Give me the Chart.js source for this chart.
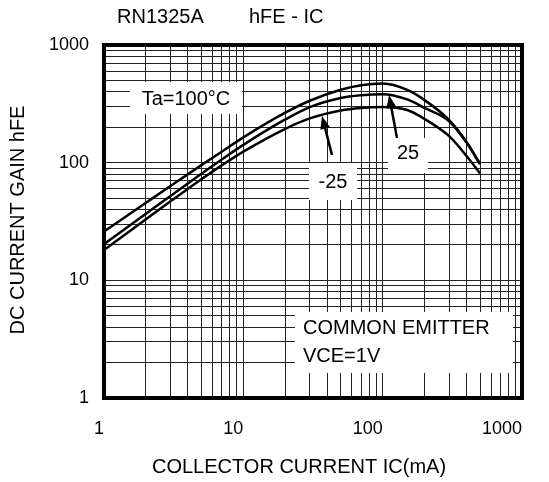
<!DOCTYPE html>
<html>
<head>
<meta charset="utf-8">
<script src="https://cdn.jsdelivr.net/npm/chart.js@4.4.1/dist/chart.umd.min.js"></script>
<style>
  html, body { margin: 0; padding: 0; background: #fff; }
</style>
</head>
<body>
<canvas id="hfe" width="549" height="482"></canvas>
<script>
// collector current IC (mA)
const xIc = [1, 2, 3, 5, 7, 10, 20, 30, 50, 70, 100, 150, 200, 300, 400, 500];
// hFE
const hfe100 = [26, 45.6, 63.3, 95.3, 124, 164, 266, 336, 416, 454, 470, 415, 340, 230, 150, 98];
const hfe25 = [20.3, 36.8, 52.2, 80.6, 106.5, 141.7, 233, 297, 355, 374, 382, 345, 292, 225, 148, 97];
const hfeM25 = [18.1, 33.1, 46.9, 72.4, 94.8, 124, 194, 238, 278, 292, 297, 280, 235, 168, 114, 81];

const decades = [1, 10, 100, 1000];
const xTickLabels = ['1', '10', '100', '1000'];
const yTickLabels = ['1', '10', '100', '1000'];

// grid lines at 1..9 of every decade
const gridVals = [];
for (let d = 1; d < 1000; d *= 10) {
  for (let k = 1; k < 10; k++) gridVals.push(k * d);
}
gridVals.push(1000);

const FONT = 'Liberation Sans, Arial, sans-serif';

function pts(ys) {
  return xIc.map((x, i) => ({ x: x, y: ys[i] }));
}

function label(arr, v) {
  const i = decades.indexOf(v);
  return i >= 0 ? arr[i] : '';
}

function whiteBox(ctx, x, y, w, h) {
  ctx.fillStyle = '#fff';
  ctx.fillRect(x, y, w, h);
}

function arrow(ctx, x1, y1, x2, y2) {
  // line from (x1,y1) to tip (x2,y2)
  const a = Math.atan2(y2 - y1, x2 - x1);
  const len = 13, half = 5;
  ctx.strokeStyle = '#000';
  ctx.fillStyle = '#000';
  ctx.lineWidth = 2.5;
  ctx.beginPath();
  ctx.moveTo(x1, y1);
  ctx.lineTo(x2 - Math.cos(a) * len * 0.8, y2 - Math.sin(a) * len * 0.8);
  ctx.stroke();
  ctx.beginPath();
  ctx.moveTo(x2, y2);
  ctx.lineTo(x2 - Math.cos(a) * len - Math.sin(a) * half, y2 - Math.sin(a) * len + Math.cos(a) * half);
  ctx.lineTo(x2 - Math.cos(a) * len + Math.sin(a) * half, y2 - Math.sin(a) * len - Math.cos(a) * half);
  ctx.closePath();
  ctx.fill();
}

const notes = {
  id: 'notes',
  beforeDatasetsDraw(chart) {
    const ctx = chart.ctx;
    ctx.save();
    whiteBox(ctx, 130, 82, 112, 32);
    whiteBox(ctx, 388, 138, 40, 35);
    whiteBox(ctx, 309, 163, 48, 37);
    whiteBox(ctx, 295, 312, 218, 61);
    ctx.restore();
  },
  afterDraw(chart) {
    const ctx = chart.ctx;
    const a = chart.chartArea;
    ctx.save();
    // frame
    ctx.strokeStyle = '#000';
    ctx.lineWidth = 4;
    ctx.strokeRect(a.left, a.top, a.right - a.left, a.bottom - a.top);

    arrow(ctx, 397, 138, 389, 95);
    arrow(ctx, 332, 155, 322, 116);

    ctx.fillStyle = '#000';
    ctx.font = '20px ' + FONT;
    ctx.textBaseline = 'middle';
    ctx.textAlign = 'center';
    ctx.fillText('Ta=100°C', 186, 99);
    ctx.fillText('25', 408, 153);
    ctx.fillText('-25', 333, 182);
    ctx.textAlign = 'left';
    ctx.fillText('COMMON EMITTER', 303, 328);
    ctx.fillText('VCE=1V', 303, 356);

    // titles
    ctx.fillText('RN1325A', 117, 17);
    ctx.fillText('hFE - IC', 249, 17);
    ctx.textAlign = 'center';
    ctx.fillText('COLLECTOR CURRENT IC(mA)', 299, 467);
    ctx.translate(18, 220);
    ctx.rotate(-Math.PI / 2);
    ctx.fillText('DC CURRENT GAIN hFE', 0, 0);
    ctx.restore();
  }
};

const line = (lbl, ys) => ({
  label: lbl,
  data: pts(ys),
  borderColor: '#000',
  borderWidth: 2.5,
  pointRadius: 0,
  fill: false,
  cubicInterpolationMode: 'monotone'
});

const ctx = document.getElementById('hfe');
const chart = new Chart(ctx, {
  type: 'line',
  data: {
    datasets: [
      line('Ta=100°C', hfe100),
      line('25', hfe25),
      line('-25', hfeM25)
    ]
  },
  options: {
    responsive: false,
    animation: false,
    devicePixelRatio: 1,
    layout: { padding: { left: 0, right: 27, top: 45, bottom: 0 } },
    plugins: { legend: { display: false }, tooltip: { enabled: false } },
    scales: {
      x: {
        type: 'logarithmic',
        min: 1,
        max: 1000,
        afterBuildTicks: (s) => { s.ticks = gridVals.map(v => ({ value: v })); },
        afterFit: (s) => { s.height = 84; },
        grid: { color: '#222', lineWidth: 1, drawTicks: false },
        border: { display: false },
        ticks: {
          autoSkip: false,
          maxRotation: 0,
          align: 'end',
          padding: 20,
          color: '#000',
          font: { size: 18, family: FONT },
          callback: (v) => label(xTickLabels, v)
        }
      },
      y: {
        type: 'logarithmic',
        min: 1,
        max: 1000,
        afterBuildTicks: (s) => { s.ticks = gridVals.map(v => ({ value: v })); },
        afterFit: (s) => { s.width = 104; },
        grid: { color: '#222', lineWidth: 1, drawTicks: false },
        border: { display: false },
        ticks: {
          autoSkip: false,
          padding: 15,
          color: '#000',
          font: { size: 18, family: FONT },
          callback: (v) => label(yTickLabels, v)
        }
      }
    }
  },
  plugins: [notes]
});
</script>
</body>
</html>
